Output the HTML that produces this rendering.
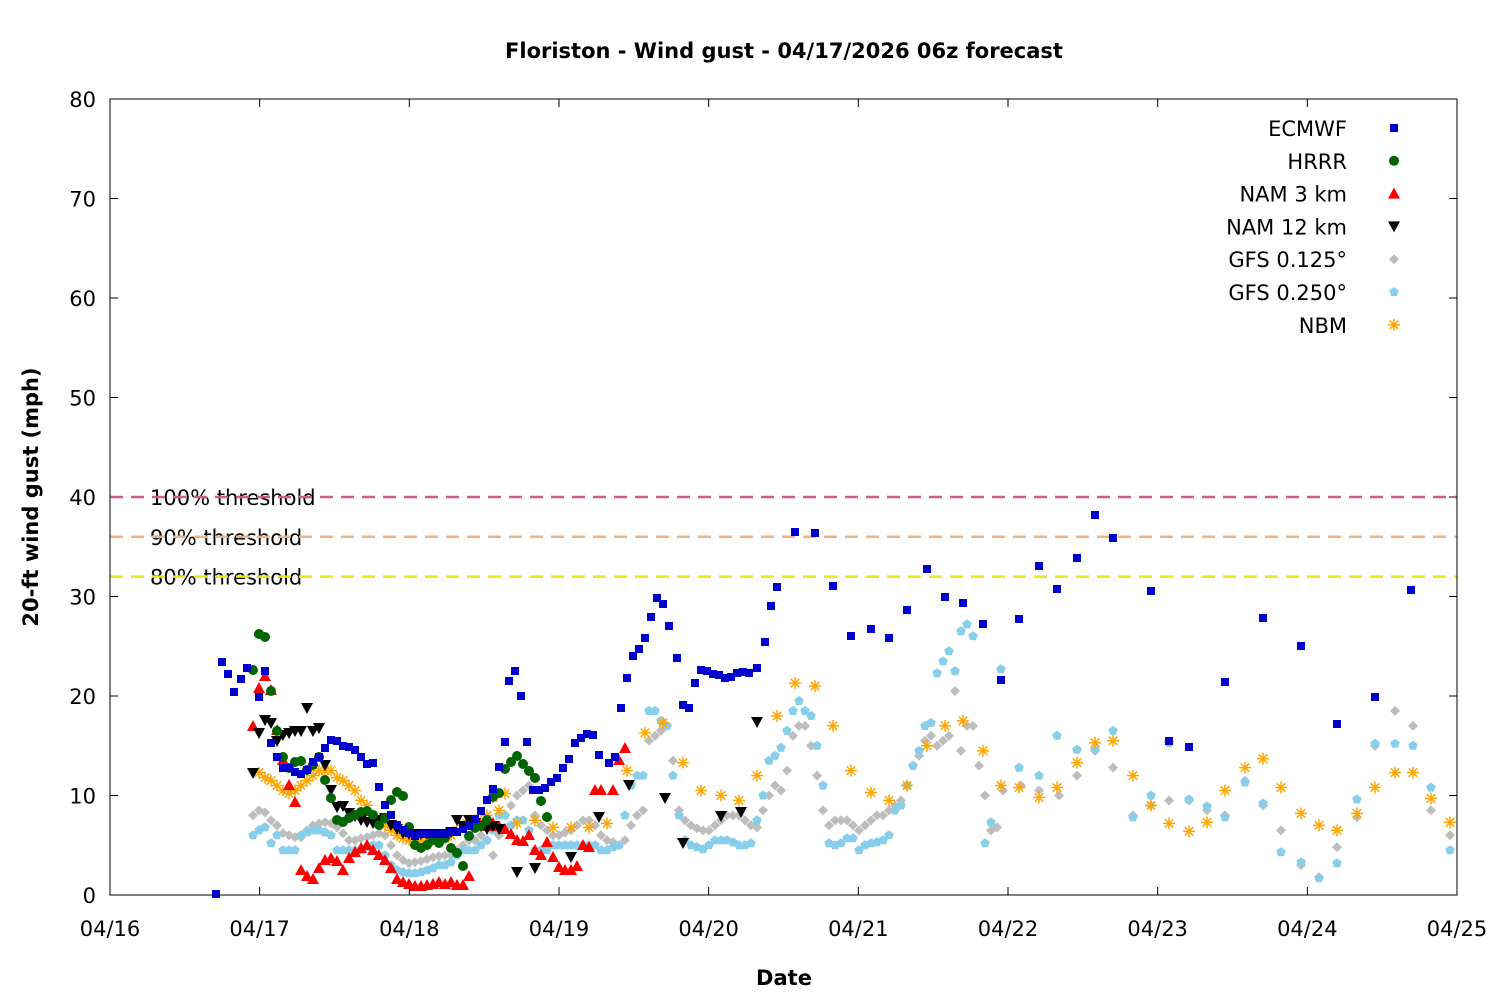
<!DOCTYPE html>
<html><head><meta charset="utf-8"><style>
html,body{margin:0;padding:0;background:#fff;width:1500px;height:1000px;overflow:hidden}
svg text{font-family:"DejaVu Sans","Liberation Sans",sans-serif}
</style></head><body>
<svg id="s" width="1500" height="1000" xmlns="http://www.w3.org/2000/svg">
<rect width="1500" height="1000" fill="#fff"/>
<text x="784" y="58" text-anchor="middle" font-size="21" font-weight="bold">Floriston - Wind gust - 04/17/2026 06z forecast</text>
<text x="784" y="985" text-anchor="middle" font-size="21" font-weight="bold">Date</text>
<text transform="translate(38,497) rotate(-90)" text-anchor="middle" font-size="21" font-weight="bold">20-ft wind gust (mph)</text>
<g id="g"></g>
</svg>
<script>
const g=document.getElementById('g');let h='';
const X0=110,X1=1457,Y0=895,Y1=99;
const ym=v=>Y0-v*(Y0-Y1)/80;
for(let v=0;v<=80;v+=10){const y=ym(v);h+=`<line x1="${X0}" x2="${X0+8}" y1="${y}" y2="${y}" stroke="#000"/><line x1="${X1-8}" x2="${X1}" y1="${y}" y2="${y}" stroke="#000"/><text x="96" y="${y+8}" text-anchor="end" font-size="21">${v}</text>`;}
const days=['04/16','04/17','04/18','04/19','04/20','04/21','04/22','04/23','04/24','04/25'];
days.forEach((d,i)=>{const x=X0+i*(X1-X0)/9;h+=`<line x1="${x}" x2="${x}" y1="${Y0}" y2="${Y0-8}" stroke="#000"/><line x1="${x}" x2="${x}" y1="${Y1}" y2="${Y1+8}" stroke="#000"/><text x="${x}" y="936" text-anchor="middle" font-size="21">${d}</text>`;});
[[40,'#d0607a','100% threshold'],[36,'#f2b27e','90% threshold'],[32,'#e8e81a','80% threshold']].forEach(t=>{const y=ym(t[0]);h+=`<text x="150" y="${y+8}" font-size="21">${t[2]}</text><line x1="${X0}" x2="${X1}" y1="${y}" y2="${y}" stroke="${t[1]}" stroke-width="2.5" stroke-dasharray="13,8"/>`;});
h+=`<rect x="${X0}" y="${Y1}" width="${X1-X0}" height="${Y0-Y1}" fill="none" stroke="#000"/>`;
function mk(type,x,y,c){
 if(type=='sq')return `<rect x="${x-4}" y="${y-4}" width="8" height="8" fill="${c}"/>`;
 if(type=='ci')return `<circle cx="${x}" cy="${y}" r="5" fill="${c}"/>`;
 if(type=='up')return `<polygon points="${x},${y-6} ${x-6},${y+5} ${x+6},${y+5}" fill="${c}"/>`;
 if(type=='dn')return `<polygon points="${x},${y+6} ${x-6},${y-5} ${x+6},${y-5}" fill="${c}"/>`;
 if(type=='di')return `<polygon points="${x},${y-5} ${x+5},${y} ${x},${y+5} ${x-5},${y}" fill="${c}"/>`;
 if(type=='pe'){let p=[];for(let i=0;i<5;i++){const a=-Math.PI/2+i*2*Math.PI/5;p.push((x+5*Math.cos(a)).toFixed(1)+','+(y+5*Math.sin(a)).toFixed(1));}return `<polygon points="${p.join(' ')}" fill="${c}"/>`;}
 if(type=='as'){let s='';for(let i=0;i<4;i++){const a=i*Math.PI/4;s+=`<line x1="${x-6*Math.cos(a)}" y1="${y-6*Math.sin(a)}" x2="${x+6*Math.cos(a)}" y2="${y+6*Math.sin(a)}" stroke="${c}" stroke-width="1.5"/>`;}return s;}
}
function pix(str,type,c){str.split(';').forEach(p=>{const [x,y]=p.split(',').map(Number);h+=mk(type,x,y,c);});}
function mph(str,type,c){str.split(';').forEach(p=>{const [x,v]=p.split(',').map(Number);h+=mk(type,x,ym(v),c);});}
mph("253,8;259,8.5;265,8.3;271,7.5;277,7;283,6.2;289,6;295,5.8;301,5.8;307,6.5;313,7;319,7.2;325,7.3;331,7.2;337,6.8;343,6.2;349,5.5;355,5.5;361,5.7;367,5.8;373,6;379,6.2;385,6;391,5;397,4;403,3.5;409,3.2;415,3.3;421,3.4;427,3.6;433,3.8;439,3.9;445,4;451,4;457,4.5;463,5;469,5.5;475,5.5;481,6;487,5.5;493,4;499,6;505,8;511,9;517,10;523,10.5;529,11;535,8;541,7;547,6.5;553,6;559,6;565,6.3;571,6.5;577,7;583,7.5;589,7.5;595,7;601,6;607,5.5;613,5.3;619,5;625,5.5;631,7;637,8;643,8.5;649,15.5;655,16;661,16.5;667,17;673,13.5;679,8.5;685,7.5;691,7;697,6.7;703,6.5;709,6.5;715,7;721,7.5;727,8;733,8;739,8;745,7.5;751,7;757,6.8;763,8.5;769,10;775,11;781,10.5;787,12.5;793,16;799,17;805,17;811,15;817,12;823,8.5;829,7;835,7.5;841,7.5;847,7.5;853,7;859,6.5;865,7;871,7.5;877,8;883,8;889,8.5;895,9;901,9.5;907,11;913,13;919,14;925,15.5;931,16;937,15;943,15.5;949,16;955,20.5;961,14.5;967,17;973,17;979,13;985,10;991,6.5;997,6.8;1003,10.5;1021,11;1039,10.5;1059,10;1077,12;1095,14.5;1113,12.8;1133,8;1151,9;1169,9.5;1189,9.5;1207,8.5;1225,8;1245,11.5;1263,9;1281,6.5;1301,3;1319,1.8;1337,4.8;1357,7.8;1375,15;1395,18.5;1413,17;1431,8.5;1450,6",'di','#bdbdbd');
mph("253,6;259,6.5;265,6.8;271,5.2;277,6;283,4.5;289,4.5;295,4.5;301,6;307,6.3;313,6.5;319,6.5;325,6.3;331,6;337,4.5;343,4.5;349,4.5;355,4.5;361,4.5;367,4.8;373,5;379,5;385,4;391,3;397,2.5;403,2.3;409,2.2;415,2.2;421,2.3;427,2.5;433,2.7;439,3;445,3;451,3.3;457,4;463,4.5;469,4.5;475,4.5;481,5;487,5.5;493,6.5;499,8;505,8;511,7;517,7.5;523,7.5;529,6.5;535,4.5;541,4.5;547,4.5;553,5;559,5;565,5;571,5;577,5;583,5;589,5;595,5;601,4.5;607,4.5;613,4.8;619,5;625,8;631,11;637,12;643,12;649,18.5;655,18.5;661,17.5;667,17;673,12;679,8;685,5.5;691,5;697,4.8;703,4.6;709,5;715,5.5;721,5.5;727,5.5;733,5.3;739,5;745,5;751,5.2;757,7.5;763,10;769,13.5;775,14;781,14.8;787,16.5;793,18.5;799,19.5;805,18.5;811,18;817,15;823,11;829,5.2;835,5;841,5.2;847,5.7;853,5.7;859,4.5;865,5;871,5.2;877,5.3;883,5.5;889,6;895,8.5;901,9;907,11;913,13;919,14.5;925,17;931,17.3;937,22.3;943,23.5;949,24.5;955,22.5;961,26.5;967,27.2;973,26;985,5.2;991,7.3;1001,22.7;1019,12.8;1039,12;1057,16;1077,14.6;1095,14.6;1113,16.5;1133,7.8;1151,10;1169,15.3;1189,9.6;1207,8.9;1225,7.8;1245,11.3;1263,9.2;1281,4.3;1301,3.3;1319,1.7;1337,3.2;1357,9.6;1375,15.2;1395,15.2;1413,15;1431,10.8;1450,4.5",'pe','#87ceeb');
mph("259,12.3;265,11.8;271,11.5;277,11;283,10.5;289,10.2;295,10.5;301,11;307,11.5;313,12;319,12.5;325,12.5;331,12.5;337,11.8;343,11.5;349,11;355,10.5;361,9.5;367,9;373,8;379,7.5;385,7;391,6.5;397,6;403,5.7;409,5.5;415,5.5;421,5.5;427,5.5;433,5.5;439,5.5;445,5.7;451,6;457,6.5;463,7;469,7.5;475,7.5;481,7.5;487,8;493,9.8;499,8.5;505,10.2;517,7.2;535,7.5;553,6.8;571,6.8;589,6.8;607,7.2;627,12.5;645,16.3;663,17.3;683,13.3;701,10.5;721,10;739,9.5;757,12;777,18;795,21.3;815,21;833,17;851,12.5;871,10.3;889,9.5;907,11;927,15;945,17;963,17.5;983,14.5;1001,11;1019,10.8;1039,9.8;1057,10.8;1077,13.3;1095,15.3;1113,15.5;1133,12;1151,9;1169,7.2;1189,6.4;1207,7.3;1225,10.5;1245,12.8;1263,13.7;1281,10.8;1301,8.2;1319,7;1337,6.5;1357,8.2;1375,10.8;1395,12.3;1413,12.3;1431,9.7;1450,7.3",'as','#ffa500');
pix("253,726;259,688;265,676;271,690;277,730;283,760;289,785;295,802;301,870;307,876;313,879;319,868;325,860;331,858;337,861;343,870;349,858;355,852;361,848;367,845;373,850;379,855;385,860;391,868;397,879;403,882;409,884;415,886;421,886;427,885;433,884;439,882;445,884;451,882;457,885;463,885;469,876;475,822;481,825;487,826;493,823;499,826;505,829;511,834;517,840;523,841;529,835;535,850;541,855;547,842;553,857;559,867;565,870;571,870;577,866;583,845;589,847;595,790;601,790;613,790;619,760;625,748",'up','#ff0000');
pix("253,773;259,733;265,720;271,723;277,741;283,735;289,733;295,731;301,731;307,708;313,731;319,728;325,765;331,790;337,807;343,806;349,813;355,816;361,820;367,822;373,823;379,820;385,818;391,825;397,829;403,833;409,834;415,834;421,834;427,834;433,834;439,834;445,834;451,832;457,820;463,826;469,820;475,823;481,826;487,829;493,826;499,829;517,872;535,868;571,857;599,817;629,785;665,798;683,843;721,816;741,812;757,722",'dn','#000');
pix("253,670;259,634;265,637;271,691;277,731;283,757;289,768;295,762;301,761;307,770;313,765;319,757;325,780;331,798;337,820;343,822;349,818;355,815;361,812;367,811;373,815;379,825;385,818;391,800;397,792;403,796;409,827;415,845;421,848;427,845;433,840;439,843;445,838;451,848;457,853;463,866;469,836;475,828;481,826;487,820;493,797;499,793;505,769;511,762;517,756;523,764;529,771;535,778;541,801;547,817",'ci','#006400');
pix("216,894;222,662;228,674;234,692;241,679;247,668;259,697;265,671;271,743;277,757;283,768;289,768;295,772;301,774;307,770;313,762;319,757;325,748;331,740;337,741;343,746;349,747;355,750;361,757;367,764;373,763;379,787;385,805;391,815;397,825;403,830;409,833;415,836;421,834;427,834;433,834;439,834;445,834;451,832;457,832;463,829;469,826;475,819;481,811;487,800;493,789;499,767;505,742;509,681;515,671;521,696;527,742;533,790;539,790;545,788;551,782;557,778;563,768;569,759;575,743;581,738;587,734;593,735;599,755;609,763;615,757;621,708;627,678;633,656;639,649;645,638;651,617;657,598;663,604;669,626;677,658;683,705;689,708;695,683;701,670;707,671;713,674;719,675;725,678;731,677;737,673;743,672;749,673;757,668;765,642;771,606;777,587;795,532;815,533;833,586;851,636;871,629;889,638;907,610;927,569;945,597;963,603;983,624;1001,680;1019,619;1039,566;1057,589;1077,558;1095,515;1113,538;1151,591;1169,741;1189,747;1225,682;1263,618;1301,646;1337,724;1375,697;1411,590",'sq','#0000cd');
[['ECMWF','sq','#0000cd'],['HRRR','ci','#006400'],['NAM 3 km','up','#ff0000'],['NAM 12 km','dn','#000'],['GFS 0.125°','di','#bdbdbd'],['GFS 0.250°','pe','#87ceeb'],['NBM','as','#ffa500']].forEach((l,i)=>{const y=128+i*32.8;h+=`<text x="1347" y="${y+8}" text-anchor="end" font-size="21">${l[0]}</text>`+mk(l[1],1394,y,l[2]);});
g.innerHTML=h;
</script>
</body></html>
